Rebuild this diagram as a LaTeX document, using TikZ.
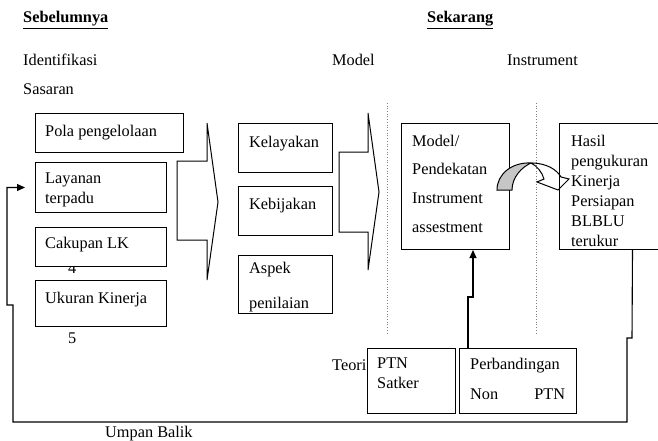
\documentclass[tikz,border=0pt]{standalone}
\usepackage{fontspec}
\setmainfont{Liberation Serif}
\usetikzlibrary{arrows.meta}
\newcommand{\hurufku}[1]{\fontsize{16.3}{#1}\selectfont}
\tikzset{
  kotak/.style={draw, line width=1pt, fill=white, inner sep=0pt, anchor=north west},
  isi/.style={inner sep=0pt, anchor=north west, align=left},
  tulis/.style={inner sep=0pt, anchor=west},
  balik/.style={line width=1.1pt, -{Triangle[length=8pt,width=7pt]}},
  titik/.style={gray, line width=0.7pt, dotted},
  panah/.style={draw, line width=1pt, line join=miter}
}
\begin{document}
\begin{tikzpicture}[x=1pt, y=-1pt, font=\hurufku{20}]
  \useasboundingbox (0,0) rectangle (658,441);
  % judul
  \node [tulis] (sebelum) at (23,20) {\underline{\textbf{Sebelumnya}}};
  \node [tulis] (sekarang) at (427,20) {\underline{\textbf{Sekarang}}};
  \node [tulis] (ident) at (23,60) {Identifikasi};
  \node [tulis] (sasaran) at (23,89) {Sasaran};
  \node [tulis] (jmodel) at (332,60) {Model};
  \node [tulis] (jinstr) at (507,60) {Instrument};
  % garis titik
  \draw [titik] (387,103) -- (387,335);
  \draw [titik] (536,103) -- (536,335);
  % kolom kiri
  \node [tulis] (empat) at (68,268) {4};
  \node [tulis] (lima) at (68,338) {5};
  \node [kotak, minimum width=148pt, minimum height=39pt] (pola) at (35,113) {};
  \node [kotak, minimum width=131pt, minimum height=50pt] (layanan) at (35,162) {};
  \node [kotak, minimum width=131pt, minimum height=39pt] (cakupan) at (35,227) {};
  \node [kotak, minimum width=131pt, minimum height=46pt] (ukuran) at (35,280) {};
  \node [isi] (tpola) at ([shift={(10,11.5)}]pola.north west) {Pola pengelolaan};
  \node [isi] (tlayanan) at ([shift={(10,10.5)}]layanan.north west) {Layanan\\terpadu};
  \node [isi] (tcakupan) at ([shift={(10,9.5)}]cakupan.north west) {Cakupan LK};
  \node [isi] (tukuran) at ([shift={(10,11.5)}]ukuran.north west) {Ukuran Kinerja};
  \draw [panah] (177,161) -- (207,161) -- (207,123) -- (218,202) -- (207,280) -- (207,240) -- (177,240) -- cycle;
  % kolom tengah
  \node [kotak, minimum width=94pt, minimum height=49pt] (kelayakan) at (238,123) {};
  \node [kotak, minimum width=94pt, minimum height=49pt] (kebijakan) at (238,186) {};
  \node [kotak, minimum width=94pt, minimum height=58pt] (aspek) at (238,255) {};
  \node [isi] (tkelayakan) at ([shift={(11,12.5)}]kelayakan.north west) {Kelayakan};
  \node [isi] (tkebijakan) at ([shift={(11,11.5)}]kebijakan.north west) {Kebijakan};
  \node [isi, font=\hurufku{35}] (taspek) at ([shift={(11,6.5)}]aspek.north west) {Aspek\\penilaian};
  \draw [panah] (339,152) -- (368,152) -- (368,113) -- (379,192) -- (368,270) -- (368,232) -- (339,232) -- cycle;
  % model dan instrument
  \node [kotak, minimum width=108pt, minimum height=126pt] (model) at (401,123) {};
  \node [kotak, minimum width=146pt, minimum height=126pt] (hasil) at (559,123) {};
  \node [isi, font=\hurufku{28.7}] (tmodel) at ([shift={(11,11.5)}]model.north west) {Model/\\Pendekatan\\Instrument\\assestment};
  \node [isi] (thasil) at ([shift={(12,11.5)}]hasil.north west) {Hasil\\pengukuran\\Kinerja\\Persiapan\\BLBLU\\terukur};
  \draw [panah, fill=gray!45] (497,190) .. controls (497,174) and (512,162) .. (531,163)
    .. controls (522,167) and (512,177) .. (512,190) -- cycle;
  \draw [panah] (531,163) .. controls (547,163) and (557,170) .. (561,177) -- (569,179) -- (558,190)
    -- (537,182) -- (544,179) .. controls (542,172) and (537,166) .. (531,163);
  % teori
  \node [tulis] (teori) at (332,365) {Teori};
  \node [kotak, minimum width=88pt, minimum height=65pt] (ptn) at (367,348) {};
  \node [kotak, minimum width=117pt, minimum height=65pt] (perb) at (459,348) {};
  \node [isi] (tptn) at ([shift={(10,9.5)}]ptn.north west) {PTN\\Satker};
  \node [isi, font=\hurufku{30}] (tperb) at ([shift={(11,9.5)}]perb.north west) {Perbandingan\\Non\hspace{36pt}PTN};
  \draw [balik] ([xshift=9pt]perb.north west) -- ++(0,-51) -| ([xshift=72pt]model.south west);
  % umpan balik
  \draw [balik] (hasil.south) -- (632,338) -- (627,338) -- (627,422) -- (13,422) -- (13,305) -- (7,305)
    |- ([xshift=-10pt]layanan.west);
  \node [tulis] (umpan) at (105,434) {Umpan Balik};
\end{tikzpicture}
\end{document}
